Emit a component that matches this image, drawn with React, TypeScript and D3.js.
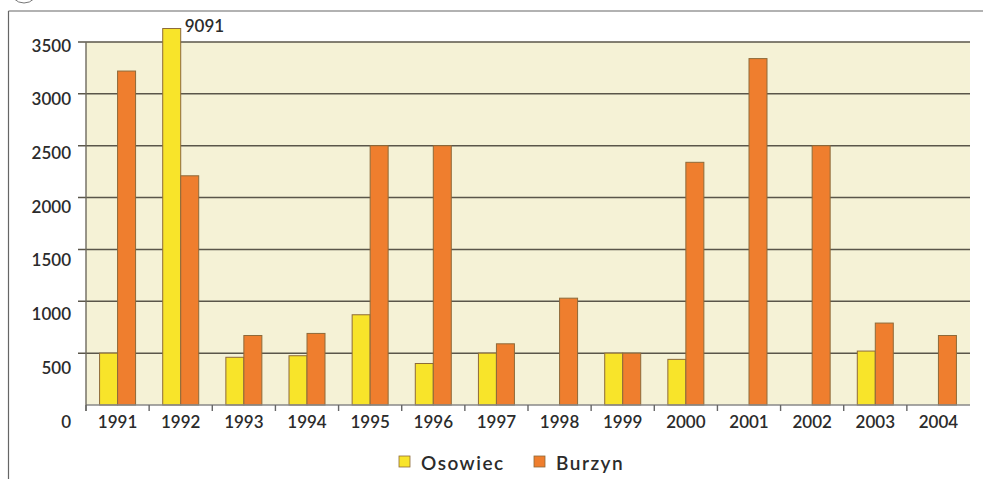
import React from "react";
import * as d3 from "d3";

const years = ["1991","1992","1993","1994","1995","1996","1997","1998","1999","2000","2001","2002","2003","2004"];
const osowiec: (number | null)[] = [500, 9091, 460, 475, 870, 400, 500, null, 500, 440, null, null, 520, null];
const burzyn: (number | null)[] = [3220, 2210, 670, 690, 2500, 2500, 590, 1030, 500, 2340, 3340, 2500, 790, 670];
const yTicks = [0, 500, 1000, 1500, 2000, 2500, 3000, 3500];
const seriesNames = ["Osowiec", "Burzyn"];
const seriesColors = ["#f8e42a", "#ef7e2e"];

const W = 983;
const H = 479;
const FONT = "Lato, 'DejaVu Sans', sans-serif";

export default function App() {
  const left = 86, right = 970, top = 42, bottom = 405;
  const yMax = 3500;
  const cap = 3630; // broken bar is cut slightly above the top gridline

  const x = d3.scaleBand<string>().domain(years).range([left, right]).paddingInner(0).paddingOuter(0);
  const y = d3.scaleLinear().domain([0, yMax]).range([bottom, top]);
  const yLab = d3.scaleLinear().domain([0, yMax]).range([421, 45]);
  const barW = 18;

  const series = [osowiec, burzyn];

  return (
    <svg width={W} height={H} style={{ position: "absolute", left: 0, top: 0, background: "#fff" }} fontFamily={FONT}>
      {/* frame */}
      <circle cx={24} cy={-11} r={14} fill="none" stroke="#777" strokeWidth={1} />
      <line x1={8.5} y1={11} x2={W} y2={11} stroke="#666" strokeWidth={1.2} />
      <line x1={8.5} y1={11} x2={8.5} y2={H} stroke="#666" strokeWidth={1.2} />

      {/* plot background */}
      <rect x={left} y={top} width={right - left} height={bottom - top} fill="#f5f2d6" />

      {/* gridlines */}
      {yTicks.filter(t => t > 0).map(t => (
        <line key={t} x1={78} x2={right} y1={y(t)} y2={y(t)} stroke="#5a564a" strokeWidth={1.5} />
      ))}

      {/* bars */}
      {years.map((yr, i) =>
        series.map((s, k) => {
          const v = s[i];
          if (v == null) return null;
          const cx = (x(yr) as number) + x.bandwidth() / 2;
          const bx = cx - barW + k * barW;
          const vy = y(Math.min(v, cap));
          return (
            <rect key={yr + k} x={bx} y={vy} width={barW} height={bottom - vy}
              fill={seriesColors[k]} stroke="#8d6a3a" strokeWidth={1} />
          );
        })
      )}

      {/* value label for the broken bar */}
      {years.map((yr, i) => {
        const v = osowiec[i];
        if (v == null || v <= cap) return null;
        const cx = (x(yr) as number) + x.bandwidth() / 2;
        return (
          <text key={"lab" + yr} x={cx + 4} y={32} fontSize={17} fill="#2b2b2b" fontWeight={600}>{v}</text>
        );
      })}

      {/* axes */}
      <line x1={left} x2={right} y1={bottom} y2={bottom} stroke="#888" strokeWidth={1.4} />
      <line x1={left} x2={left} y1={top} y2={411} stroke="#6e6a5e" strokeWidth={1.4} />
      {years.map(yr => (
        <line key={"t" + yr} x1={x(yr) as number} x2={x(yr) as number} y1={bottom} y2={411} stroke="#666" strokeWidth={1.4} />
      ))}

      {/* y labels */}
      {yTicks.map(t => (
        <text key={"y" + t} x={71} y={yLab(t)} textAnchor="end" dominantBaseline="central" fontSize={17} fill="#2b2b2b" fontWeight={600}>{t}</text>
      ))}

      {/* x labels */}
      {years.map(yr => (
        <text key={"x" + yr} x={(x(yr) as number) + x.bandwidth() / 2} y={421} textAnchor="middle" dominantBaseline="central" fontSize={17} fill="#2b2b2b" fontWeight={600}>{yr}</text>
      ))}

      {/* legend */}
      {seriesNames.map((n, k) => {
        const lx = k === 0 ? 399 : 534;
        return (
          <g key={n}>
            <rect x={lx} y={456} width={11} height={11} fill={seriesColors[k]} stroke="#8d6a3a" strokeWidth={0.8} />
            <text x={lx + 22} y={462} dominantBaseline="central" fontSize={19} letterSpacing={1.5} fill="#2b2b2b" fontWeight={600}>{n}</text>
          </g>
        );
      })}
    </svg>
  );
}
